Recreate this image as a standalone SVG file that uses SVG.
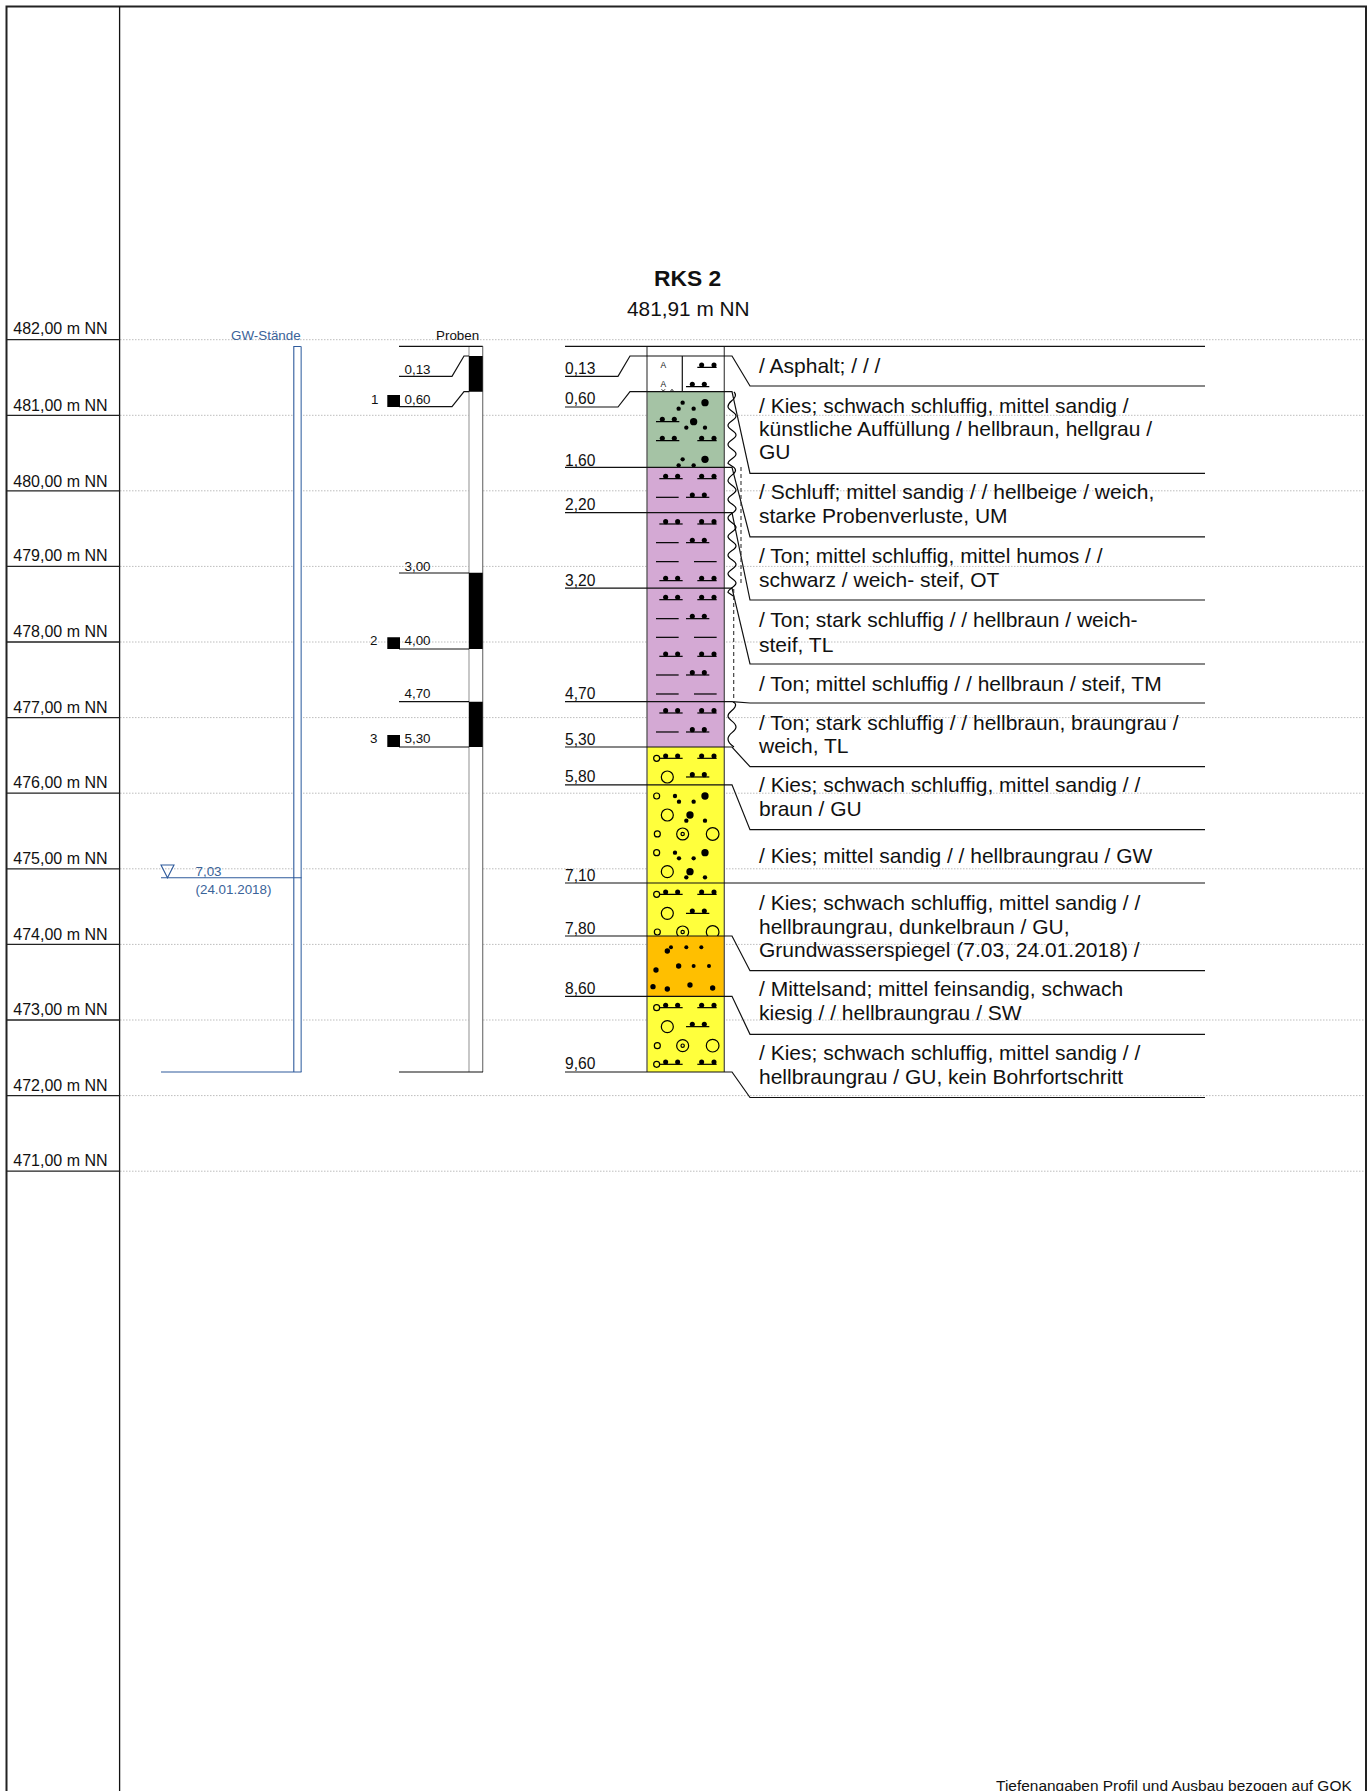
<svg xmlns="http://www.w3.org/2000/svg" xmlns:xlink="http://www.w3.org/1999/xlink" width="1372" height="1791" viewBox="0 0 1372 1791">
<style>
text{font-family:"Liberation Sans",Arial,sans-serif;fill:#111}
.lv{font-size:16px}
.d{font-size:15.6px}
.p{font-size:13.4px}
.g{font-size:13.4px;fill:#3a6399}
.t{font-size:21px}
.dot{fill:none;stroke:#bdbdbd;stroke-width:1;stroke-dasharray:1.5 1.5}
.ln{fill:none;stroke:#111;stroke-width:1.2}
.sy{fill:none;stroke:#000;stroke-width:3.6}
.bk{fill:#000}
.ci{fill:none;stroke:#000;stroke-width:3.6}
.wv{fill:none;stroke:#000;stroke-width:1.2}
.ds{fill:none;stroke:#333;stroke-width:1.1;stroke-dasharray:4 3}
.bl{fill:none;stroke:#2f5b9c;stroke-width:1.1}
</style>
<defs>
<g id="s"><path class="sy" d="M0 0H70"/><circle class="bk" cx="19" cy="-7" r="7.600"/><circle class="bk" cx="55" cy="-7" r="7.600"/></g>
<g id="r"><path class="sy" d="M0 0H58"/><circle class="bk" cx="13" cy="-7" r="7.600"/><circle class="bk" cx="50" cy="-7" r="7.600"/></g>
<path id="l" class="sy" d="M0 0H68"/>
<g id="gv"><circle class="bk" cx="465" cy="0" r="11"/><circle class="bk" cx="398" cy="0" r="6.500"/><circle class="bk" cx="386" cy="18" r="6.500"/><circle class="bk" cx="431" cy="18" r="6.500"/><circle class="bk" cx="431" cy="57" r="11"/><circle class="bk" cx="409" cy="75" r="6.500"/><circle class="bk" cx="465" cy="75" r="6.500"/></g>
<g id="gy"><circle class="ci" cx="320" cy="0" r="9"/><circle class="bk" cx="375" cy="0" r="6.500"/><circle class="bk" cx="465" cy="0" r="11"/><circle class="bk" cx="387" cy="17" r="6.500"/><circle class="bk" cx="431" cy="17" r="6.500"/><circle class="ci" cx="352" cy="57" r="18"/><circle class="bk" cx="420" cy="57" r="11"/><circle class="bk" cx="409" cy="74" r="6.500"/><circle class="bk" cx="465" cy="74" r="6.500"/></g>
<g id="cc"><circle class="ci" cx="322" cy="0" r="9"/><circle class="ci" cx="398" cy="0" r="18"/><circle class="ci" cx="398" cy="0" r="5"/><circle class="ci" cx="488" cy="0" r="19"/></g>
<g id="rs"><circle class="ci" cx="320" cy="0" r="9"/><use xlink:href="#s" x="328" y="0"/><use xlink:href="#r" x="442" y="0"/></g>
<g id="rc"><circle class="ci" cx="352" cy="0" r="18"/><use xlink:href="#s" x="408" y="0"/></g>
<clipPath id="c0"><rect x="647" y="356" width="77.300" height="35.700"/></clipPath>
<clipPath id="c1"><rect x="647" y="391.700" width="77.300" height="75.600"/></clipPath>
<clipPath id="c2"><rect x="647" y="883" width="77.300" height="53"/></clipPath>
<clipPath id="c3"><rect x="647" y="784.800" width="77.300" height="98.200"/></clipPath>
</defs>

<g id="grid">
<path class="dot" d="M120 339.700H1366M120 415.300H1366M120 490.800H1366M120 566.400H1366M120 642H1366M120 717.600H1366M120 793.200H1366M120 868.800H1366M120 944.400H1366M120 1020H1366M120 1095.600H1366M120 1171.200H1366"/>
</g>

<g id="frame">
<path fill="none" stroke="#222" stroke-width="2" d="M6.500 1791V6.500H1366V1791"/>
<path fill="none" stroke="#111" stroke-width="1.300" d="M119.600 6.500V1791"/>
<path fill="none" stroke="#222" stroke-width="1.300" d="M6.500 339.700H119.600M6.500 415.300H119.600M6.500 490.800H119.600M6.500 566.400H119.600M6.500 642H119.600M6.500 717.600H119.600M6.500 793.200H119.600M6.500 868.800H119.600M6.500 944.400H119.600M6.500 1020H119.600M6.500 1095.600H119.600M6.500 1171.200H119.600"/>
</g>

<g id="levels">
<text class="lv" x="13.300" y="334">482,00 m NN</text>
<text class="lv" x="13.300" y="410.500">481,00 m NN</text>
<text class="lv" x="13.300" y="486.500">480,00 m NN</text>
<text class="lv" x="13.300" y="561">479,00 m NN</text>
<text class="lv" x="13.300" y="637">478,00 m NN</text>
<text class="lv" x="13.300" y="712.500">477,00 m NN</text>
<text class="lv" x="13.300" y="788">476,00 m NN</text>
<text class="lv" x="13.300" y="863.500">475,00 m NN</text>
<text class="lv" x="13.300" y="939.500">474,00 m NN</text>
<text class="lv" x="13.300" y="1015">473,00 m NN</text>
<text class="lv" x="13.300" y="1090.500">472,00 m NN</text>
<text class="lv" x="13.300" y="1166">471,00 m NN</text>
</g>

<g id="gw">
<text class="g" x="231" y="340">GW-Stände</text>
<rect x="293.800" y="346.500" width="7.400" height="725.500" fill="#fff" stroke="none"/>
<path class="bl" d="M293.800 1072V346.500H301.200"/>
<path fill="none" stroke="#6f90bd" stroke-width="1.500" d="M301.200 346.500V1072"/>
<path class="bl" d="M161 877.700H301.500M161 1072H301.500"/>
<path class="bl" d="M161 865H174L167.500 877.700Z"/>
<text class="g" x="195.500" y="875.500">7,03</text>
<text class="g" x="195.500" y="894.300">(24.01.2018)</text>
</g>

<g id="proben">
<text class="p" x="436" y="340">Proben</text>
<rect x="469" y="346.300" width="13.700" height="725.700" fill="#fff"/>
<path fill="none" stroke="#aaa" stroke-width="1.300" d="M469 346.300V1072"/>
<path fill="none" stroke="#777" stroke-width="1.200" d="M482.700 346.300V1072"/>
<path class="bk" d="M469 356H482.700V391.700H469ZM469 572.700H482.700V649H469ZM469 701.700H482.700V747H469Z"/>
<path class="ln" d="M399 346.300H482.700M399 376.300H452L464 356H469M399 406.700H452L464 391.700H469M399 573H469M399 649H469M399 701.700H469M399 747H469M399 1072H483"/>
<path class="bk" d="M387.300 395H400V407H387.300ZM387.300 637.300H400V649H387.300ZM387.300 735H400V747H387.300Z"/>
<text class="p" x="404.500" y="374.300">0,13</text>
<text class="p" x="371" y="404">1</text>
<text class="p" x="404.500" y="404">0,60</text>
<text class="p" x="404.500" y="571">3,00</text>
<text class="p" x="370" y="645">2</text>
<text class="p" x="404.500" y="645">4,00</text>
<text class="p" x="404.500" y="698.300">4,70</text>
<text class="p" x="370" y="743">3</text>
<text class="p" x="404.500" y="743.300">5,30</text>
</g>

<g id="title">
<text x="687.700" y="285.700" text-anchor="middle" font-size="22.800" font-weight="bold">RKS 2</text>
<text x="688.300" y="316" text-anchor="middle" font-size="20.800">481,91 m NN</text>
</g>

<g id="profile">
<rect x="647" y="346.300" width="77.300" height="45.400" fill="#fff"/>
<rect x="647" y="391.700" width="77.300" height="75.600" fill="#a5c3a5"/>
<rect x="647" y="467.300" width="77.300" height="279.700" fill="#d4a9d4"/>
<rect x="647" y="747" width="77.300" height="189" fill="#ffff3c"/>
<rect x="647" y="936" width="77.300" height="60.500" fill="#ffbf00"/>
<rect x="647" y="996.500" width="77.300" height="75.500" fill="#ffff3c"/>

<g id="layer-asphalt" clip-path="url(#c0)"><g transform="translate(550,330) scale(.3333)">
<use xlink:href="#r" x="442" y="112"/>
<use xlink:href="#s" x="408" y="170"/>
<path d="M335 178l5 5 5-5M362 183l4-5 4 5" fill="none" stroke="#222" stroke-width="3"/>
</g>
<path d="M682.300 356V391.700" class="ln"/>
<text x="663.300" y="367.700" text-anchor="middle" font-size="8.500" fill="#000">A</text>
<text x="663.300" y="387" text-anchor="middle" font-size="8.500" fill="#000">A</text>
</g>

<g id="layer-kies-1" clip-path="url(#c1)"><g transform="translate(550,330) scale(.3333)">
<use xlink:href="#gv" y="218"/>
<use xlink:href="#s" x="318" y="275"/>
<use xlink:href="#s" x="318" y="332"/>
<use xlink:href="#r" x="442" y="332"/>
<use xlink:href="#gv" y="388"/>
</g></g>

<g id="layer-schluff" transform="translate(550,330) scale(.3333)">
<use xlink:href="#s" x="328" y="446"/><use xlink:href="#r" x="442" y="446"/>
<use xlink:href="#l" x="318" y="502"/><use xlink:href="#s" x="408" y="502"/>
</g>
<g id="layer-ton-1" transform="translate(550,330) scale(.3333)">
<use xlink:href="#s" x="328" y="582"/><use xlink:href="#r" x="442" y="582"/>
<use xlink:href="#l" x="318" y="638"/><use xlink:href="#s" x="408" y="638"/>
<use xlink:href="#l" x="318" y="695"/><use xlink:href="#l" x="432" y="695"/>
<use xlink:href="#s" x="328" y="752"/><use xlink:href="#r" x="442" y="752"/>
</g>
<g id="layer-ton-2" transform="translate(550,580) scale(.3333)">
<use xlink:href="#s" x="328" y="59"/><use xlink:href="#r" x="442" y="59"/>
<use xlink:href="#l" x="318" y="116"/><use xlink:href="#s" x="408" y="116"/>
<use xlink:href="#l" x="318" y="172"/><use xlink:href="#l" x="432" y="172"/>
<use xlink:href="#s" x="328" y="229"/><use xlink:href="#r" x="442" y="229"/>
<use xlink:href="#l" x="318" y="285"/><use xlink:href="#s" x="408" y="285"/>
<use xlink:href="#l" x="318" y="342"/><use xlink:href="#l" x="432" y="342"/>
</g>
<g id="layer-ton-3" transform="translate(550,580) scale(.3333)">
<use xlink:href="#s" x="328" y="399"/><use xlink:href="#r" x="442" y="399"/>
<use xlink:href="#l" x="318" y="456"/><use xlink:href="#s" x="408" y="456"/>
</g>
<g id="layer-kies-2" transform="translate(550,580) scale(.3333)">
<use xlink:href="#rs" y="535"/>
<use xlink:href="#rc" y="591"/>
</g>
<g id="layer-kies-3" clip-path="url(#c3)"><g transform="translate(550,580) scale(.3333)">
<use xlink:href="#gy" y="648"/>
<use xlink:href="#cc" y="762"/>
<use xlink:href="#gy" y="818"/>
</g></g>
<g id="layer-kies-4" clip-path="url(#c2)"><g transform="translate(550,830) scale(.3333)">
<use xlink:href="#rs" y="193"/>
<use xlink:href="#rc" y="250"/>
<use xlink:href="#cc" y="306"/>
</g></g>
<g id="layer-mittelsand" transform="translate(550,830) scale(.3333)">
<circle class="bk" cx="352" cy="363" r="8"/><circle class="bk" cx="363" cy="352" r="6"/><circle class="bk" cx="409" cy="352" r="6"/><circle class="bk" cx="454" cy="352" r="6"/>
<circle class="bk" cx="318" cy="420" r="8"/><circle class="bk" cx="386" cy="408" r="8"/><circle class="bk" cx="431" cy="408" r="6"/><circle class="bk" cx="477" cy="408" r="6"/>
<circle class="bk" cx="309" cy="470" r="8"/><circle class="bk" cx="352" cy="477" r="8"/><circle class="bk" cx="420" cy="465" r="8"/><circle class="bk" cx="488" cy="474" r="8"/>
</g>
<g id="layer-kies-5" transform="translate(550,830) scale(.3333)">
<use xlink:href="#rs" y="533"/>
<use xlink:href="#rc" y="590"/>
<use xlink:href="#cc" y="647"/>
<use xlink:href="#rs" y="703"/>
</g>
<path fill="none" stroke="#555" stroke-width="1.300" d="M647 346.300V1072M724.300 346.300V1072"/>
</g>

<g id="connectors">
<path class="ln" d="M565 346.300H1205"/>
<path class="ln" d="M565 376.300H618L630 356H732L750 386H1205"/>
<path class="ln" d="M565 407H618L630 391.700H732L750 473.300H1205"/>
<path class="ln" d="M565 467.300H732L750 536.800H1205"/>
<path class="ln" d="M565 512.700H732L750 600H1205"/>
<path class="ln" d="M565 588.200H732L750 664H1205"/>
<path class="ln" d="M565 701.700H732L750 703H1205"/>
<path class="ln" d="M565 747H732L750 766.700H1205"/>
<path class="ln" d="M565 784.800H732L750 829.700H1205"/>
<path class="ln" d="M565 883H1205"/>
<path class="ln" d="M565 936H732L750 970.700H1205"/>
<path class="ln" d="M565 996.300H732L750 1034.300H1205"/>
<path class="ln" d="M565 1072H732L750 1097.500H1205"/>
<path class="wv" d="M734 392c2 2 2 4 0 6.500s-6 4 -6 8s8 5.500 8 9.500s-8 5.500 -8 9.500s8 5.500 8 9.500s-8 5.500 -8 9.500s8 5.500 8 9.500s-8 5.500 -8 9.500l6 4"/>
<path class="wv" d="M734 467.300c2 2 2 4 0 6s-6 4 -6 7.500s8 5.500 8 9.300s-8 5.500 -8 9.300s8 5.500 8 9.300s-8 5.500 -8 9.300s8 5.500 8 9.300s-8 5.500 -8 9.300s8 5.500 8 9.300s-8 5.500 -8 9.300s8 5.500 8 9.300s-8 5.500 -8 9.300s8 5.500 8 9.300s-8 5.500 -8 9.300l6 4"/>
<path class="wv" d="M733 702c3 1 3 3 2 5c-2 4 -7 5 -7 9c0 4 8 6 8 11c0 5 -8 6 -8 12c0 3 3 6 6 8"/>
<path class="ds" d="M741 467V585"/>
<path class="ds" d="M733.700 589V702"/>
</g>

<g id="descriptions">
<text class="t" x="759" y="373.300">/ Asphalt; / / /</text>
<text class="t" x="759" y="412.700">/ Kies; schwach schluffig, mittel sandig /</text>
<text class="t" x="759" y="436">künstliche Auffüllung / hellbraun, hellgrau /</text>
<text class="t" x="759" y="459.300">GU</text>
<text class="t" x="759" y="498.700">/ Schluff; mittel sandig / / hellbeige / weich,</text>
<text class="t" x="759" y="523.300">starke Probenverluste, UM</text>
<text class="t" x="759" y="562.700">/ Ton; mittel schluffig, mittel humos / /</text>
<text class="t" x="759" y="587.300">schwarz / weich- steif, OT</text>
<text class="t" x="759" y="626.700">/ Ton; stark schluffig / / hellbraun / weich-</text>
<text class="t" x="759" y="651.700">steif, TL</text>
<text class="t" x="759" y="690.700">/ Ton; mittel schluffig / / hellbraun / steif, TM</text>
<text class="t" x="759" y="730">/ Ton; stark schluffig / / hellbraun, braungrau /</text>
<text class="t" x="759" y="752.500">weich, TL</text>
<text class="t" x="759" y="791.700">/ Kies; schwach schluffig, mittel sandig / /</text>
<text class="t" x="759" y="816">braun / GU</text>
<text class="t" x="759" y="862.700">/ Kies; mittel sandig / / hellbraungrau / GW</text>
<text class="t" x="759" y="910">/ Kies; schwach schluffig, mittel sandig / /</text>
<text class="t" x="759" y="934">hellbraungrau, dunkelbraun / GU,</text>
<text class="t" x="759" y="957">Grundwasserspiegel (7.03, 24.01.2018) /</text>
<text class="t" x="759" y="996">/ Mittelsand; mittel feinsandig, schwach</text>
<text class="t" x="759" y="1020">kiesig / / hellbraungrau / SW</text>
<text class="t" x="759" y="1060">/ Kies; schwach schluffig, mittel sandig / /</text>
<text class="t" x="759" y="1084">hellbraungrau / GU, kein Bohrfortschritt</text>
</g>

<g id="depths">
<text class="d" x="565" y="374">0,13</text>
<text class="d" x="565" y="403.500">0,60</text>
<text class="d" x="565" y="465.500">1,60</text>
<text class="d" x="565" y="510">2,20</text>
<text class="d" x="565" y="586">3,20</text>
<text class="d" x="565" y="699">4,70</text>
<text class="d" x="565" y="744.500">5,30</text>
<text class="d" x="565" y="782">5,80</text>
<text class="d" x="565" y="881">7,10</text>
<text class="d" x="565" y="933.500">7,80</text>
<text class="d" x="565" y="993.500">8,60</text>
<text class="d" x="565" y="1069">9,60</text>
</g>

<text x="1351.700" y="1790.700" text-anchor="end" font-size="15.450">Tiefenangaben Profil und Ausbau bezogen auf GOK</text>
</svg>
